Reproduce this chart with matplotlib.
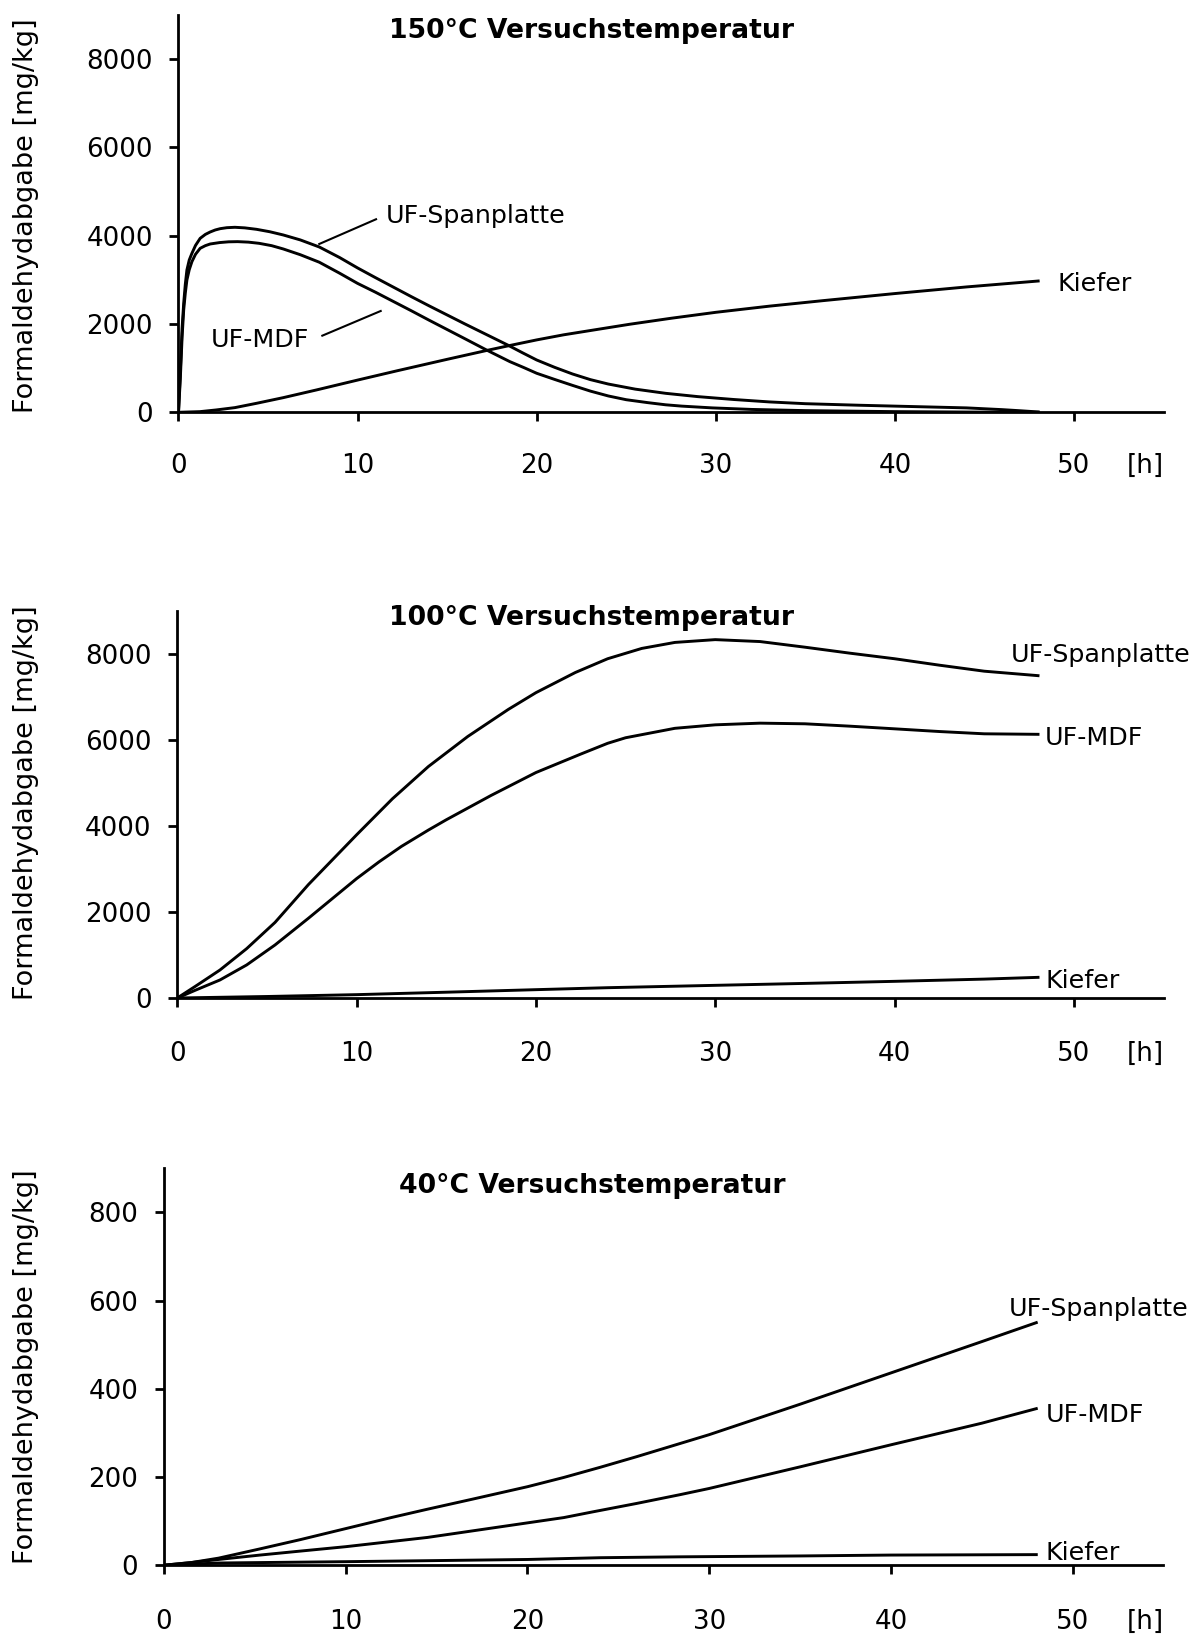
import matplotlib
matplotlib.use('Agg')
import matplotlib.pyplot as plt

# --- 150°C ---
t_150_span = [0, 0.1, 0.2, 0.29, 0.38, 0.47, 0.6, 0.75, 0.95, 1.21, 1.5, 1.77, 2.05, 2.33, 2.7,
              3.15, 3.7, 4.36, 5.1, 5.85, 6.8, 7.86, 9, 10, 11, 12, 13, 14, 15, 16, 17, 18.4,
              19.2, 20, 21, 22, 23, 24, 25.5, 27.2, 29, 31, 33, 35, 38, 41, 44, 46, 47, 48]
v_150_span = [0, 900, 1900, 2469, 2900, 3225, 3450, 3602, 3780, 3941, 4030, 4085, 4130, 4160,
              4182, 4191, 4178, 4145, 4090, 4017, 3905, 3745, 3505, 3270, 3050, 2835, 2620,
              2410, 2205, 2000, 1800, 1520, 1350, 1185, 1019, 868, 740, 640, 525, 430, 355,
              290, 235, 195, 160, 130, 100, 60, 35, 8]
t_150_mdf = [0, 0.1, 0.2, 0.29, 0.38, 0.47, 0.6, 0.75, 0.95, 1.21, 1.5, 1.77, 2.3, 2.8, 3.3,
             3.9, 4.5, 5.2, 5.85, 6.8, 7.86, 9, 10, 11, 12, 13, 14, 15, 16, 17.2, 18.5, 19.3,
             20, 21, 22, 23, 24, 25, 26.2, 27.2, 28.1, 29.8, 32, 35, 40, 44, 48]
v_150_mdf = [0, 750, 1700, 2318, 2700, 2997, 3230, 3413, 3580, 3715, 3775, 3813, 3845, 3862,
             3866, 3855, 3828, 3775, 3700, 3570, 3400, 3150, 2920, 2720, 2510, 2300, 2085,
             1875, 1665, 1411, 1148, 1010, 884, 745, 610, 480, 370, 285, 219, 170, 140, 100,
             65, 38, 15, 6, 0]
t_150_kiefer = [0, 1.2, 2.1, 3.15, 4.36, 5.85, 7.7, 10, 12.2, 15, 17.2, 18.4, 20, 21.5, 23.5,
                25.2, 27.5, 30, 33, 36, 40, 44, 48]
v_150_kiefer = [0, 15, 53, 106, 204, 332, 506, 730, 940, 1200, 1400, 1505, 1640, 1755, 1885,
                1995, 2130, 2265, 2405, 2530, 2690, 2840, 2974]

# --- 100°C ---
t_100_span = [0, 1, 2.38, 3.87, 5.45, 7.31, 10, 12, 14, 16.2, 18.46, 20, 22.2, 24, 25.9, 27.75,
              30, 32.5, 35, 37.5, 40, 42.5, 45, 48]
v_100_span = [0, 270, 652, 1150, 1760, 2640, 3800, 4640, 5389, 6090, 6720, 7110, 7580, 7900,
              8140, 8280, 8345, 8300, 8169, 8030, 7900, 7750, 7610, 7506]
t_100_mdf = [0, 1, 2.38, 3.87, 5.45, 7.31, 10, 11.25, 12.5, 14, 15, 17.5, 20, 22.5, 24, 25,
             27.75, 30, 32.5, 35, 37.5, 40, 42.5, 45, 48]
v_100_mdf = [0, 180, 420, 770, 1235, 1856, 2780, 3170, 3530, 3910, 4150, 4717, 5250, 5680,
             5931, 6060, 6280, 6361, 6400, 6385, 6330, 6268, 6205, 6152, 6140]
t_100_kiefer = [0, 5, 10, 15, 20, 24, 30, 35, 40, 45, 48]
v_100_kiefer = [0, 35, 78, 135, 194, 240, 295, 340, 388, 440, 481]

# --- 40°C ---
t_40_span = [0, 1.5, 3, 5.28, 7.5, 10, 12.5, 14.5, 17, 20, 22, 24, 26, 28.4, 30, 35, 40, 45, 48]
v_40_span = [0, 6, 16, 37, 58, 83, 108, 127, 150, 178, 199, 222, 246, 276, 296, 365, 436, 507, 550]
t_40_mdf = [0, 1.5, 3, 5.28, 7.5, 10, 14.5, 17, 20, 22, 23.6, 26, 28.4, 30, 35, 40, 45, 48]
v_40_mdf = [0, 6, 13, 23, 32, 42, 63, 78, 96, 108, 121, 140, 160, 174, 223, 273, 322, 355]
t_40_kiefer = [0, 3, 10, 20, 24, 28.4, 35, 40, 48]
v_40_kiefer = [0, 5, 8, 13, 17, 19, 21, 23, 24]

x_ticks = [0, 10, 20, 30, 40, 50]

plt.rcParams['font.family'] = 'DejaVu Sans'

LW = 2.1
TICK_FS = 18.8
LABEL_FS = 18.3

fig = plt.figure(figsize=(12.02, 16.38), dpi=100)


def panel(rect, ymax, yticks, xpad, title, title_y, ylab_y):
    ax = fig.add_axes(rect)
    ax.set_xlim(0, 55)
    ax.set_ylim(0, ymax)
    for s in ['top', 'right']:
        ax.spines[s].set_visible(False)
    for s in ['left', 'bottom']:
        ax.spines[s].set_linewidth(2.0)
    ax.set_xticks(x_ticks)
    ax.set_yticks(yticks)
    ax.tick_params(axis='both', direction='out', length=6.5, width=2.0,
                   labelsize=TICK_FS, colors='black')
    ax.tick_params(axis='x', pad=xpad)
    ax.tick_params(axis='y', pad=12)
    ax.annotate('[h]', xy=(54, 0), xycoords=ax.get_xaxis_transform(),
                xytext=(0, -(6.5 + xpad)), textcoords='offset points',
                ha='center', va='top', fontsize=TICK_FS)
    fig.text(0.4925, title_y, title, ha='center', va='baseline',
             fontsize=19.2, fontweight='bold')
    fig.text(0.0277, ylab_y, 'Formaldehydabgabe [mg/kg]', rotation=90,
             rotation_mode='anchor', ha='center', va='baseline', fontsize=19.5)
    return ax


def curves(ax, series):
    for t, v in series:
        ax.plot(t, v, color='black', lw=LW, solid_joinstyle='round')


# 150°C
ax1 = panel([0.1485, 0.74829, 0.8195, 0.24255], 9000, [0, 2000, 4000, 6000, 8000],
            23.0, '150°C Versuchstemperatur', 0.97662, 0.86838)
curves(ax1, [(t_150_span, v_150_span), (t_150_mdf, v_150_mdf), (t_150_kiefer, v_150_kiefer)])
ax1.text(11.59, 4282, 'UF-Spanplatte', ha='left', va='baseline', fontsize=LABEL_FS)
ax1.plot([11.03, 7.86], [4373, 3813], color='black', lw=1.5)
ax1.text(1.81, 1486, 'UF-MDF', ha='left', va='baseline', fontsize=LABEL_FS)
ax1.plot([8.03, 11.29], [1736, 2295], color='black', lw=1.5)
ax1.text(49.07, 2755, 'Kiefer', ha='left', va='baseline', fontsize=LABEL_FS)

# 100°C
ax2 = panel([0.1475, 0.39072, 0.8205, 0.23596], 9000, [0, 2000, 4000, 6000, 8000],
            24.4, '100°C Versuchstemperatur', 0.61844, 0.50977)
curves(ax2, [(t_100_span, v_100_span), (t_100_mdf, v_100_mdf), (t_100_kiefer, v_100_kiefer)])
ax2.text(46.5, 7832, 'UF-Spanplatte', ha='left', va='baseline', fontsize=LABEL_FS)
ax2.text(48.4, 5891, 'UF-MDF', ha='left', va='baseline', fontsize=LABEL_FS)
ax2.text(48.4, 225, 'Kiefer', ha='left', va='baseline', fontsize=LABEL_FS)

# 40°C
ax3 = panel([0.13644, 0.04444, 0.83153, 0.24231], 900, [0, 200, 400, 600, 800],
            25.2, '40°C Versuchstemperatur', 0.27186, 0.16545)
curves(ax3, [(t_40_span, v_40_span), (t_40_mdf, v_40_mdf), (t_40_kiefer, v_40_kiefer)])
ax3.text(46.5, 565, 'UF-Spanplatte', ha='left', va='baseline', fontsize=LABEL_FS)
ax3.text(48.5, 325, 'UF-MDF', ha='left', va='baseline', fontsize=LABEL_FS)
ax3.text(48.5, 11.8, 'Kiefer', ha='left', va='baseline', fontsize=LABEL_FS)

fig.savefig('out.png', dpi=100, facecolor='white')
